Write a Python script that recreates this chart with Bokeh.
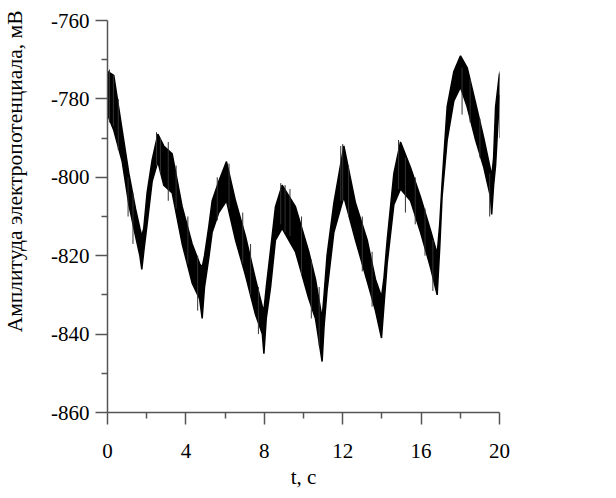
from bokeh.plotting import figure
from bokeh.models import Range1d, FixedTicker, ColumnDataSource, Title, CustomJSTickFormatter
from bokeh.embed import file_html
from bokeh.resources import INLINE

# Envelope of the noisy trace: time (s), upper and lower bound (mV)
t_env = [0.00, 0.32, 0.75, 1.09, 1.43, 1.65, 1.75, 1.85, 2.02, 2.28, 2.57, 2.87, 3.30,
         3.81, 4.32, 4.70, 4.83, 4.95, 5.17, 5.34, 5.68, 6.07, 6.53, 7.04, 7.55, 7.90,
         7.98, 8.10, 8.32, 8.57, 8.91, 9.59, 10.27, 10.61, 10.95, 11.05, 11.20, 11.55,
         12.06, 12.65, 13.25, 13.67, 13.98, 14.10, 14.27, 14.61, 14.95, 15.46, 15.97,
         16.48, 16.82, 16.95, 17.07, 17.33, 17.67, 18.01, 18.35, 18.78, 19.20, 19.54,
         19.60, 19.70, 19.80, 20.00]
y_upper = [-773, -774, -788, -799, -808, -813, -815, -813, -804, -795.5, -789, -792, -794,
           -807.5, -817, -822, -823, -820, -812.5, -806, -801, -796, -806, -815, -826, -833,
           -834, -828, -818.5, -807.5, -802, -807.5, -819, -826, -836, -830, -820, -806.5,
           -792, -806.5, -816, -826, -830.5, -826, -816, -799, -791, -797.5, -805,
           -813.5, -819.5, -812, -801.5, -782, -773, -769, -772, -781, -790, -798,
           -800, -795, -782, -773.5]
y_lower = [-784, -788, -796, -807, -815, -820, -823.5, -819, -812, -801, -796, -802, -804,
           -817, -827, -831, -836, -828, -820.5, -814, -809, -806, -816, -825, -835, -840,
           -845, -836, -828, -816, -813, -819, -831, -836, -847, -838, -829, -814,
           -805, -816, -826.5, -834, -841, -833, -822, -807, -803, -806, -814,
           -823, -830, -818, -805, -790.5, -780.5, -777, -782, -790.5, -797.5, -805,
           -809.5, -802, -797, -779]

# Individual noise spikes: time, top, bottom (mV)
spike_t = [0.10, 0.30, 0.55, 1.05, 1.30, 2.50, 2.70, 3.10, 3.50, 4.10, 4.60, 5.60, 6.20,
           6.90, 7.30, 7.70, 8.84, 9.06, 9.31, 9.90, 10.40, 10.80, 11.90, 12.00, 12.30,
           13.00, 13.50, 14.85, 15.20, 15.70, 16.20, 16.60, 18.09, 18.50, 19.00, 19.50,
           20.00]
spike_top = [-772.5, -774, -780, -800, -804, -788.5, -790, -791, -797, -810, -820, -800,
             -796.5, -809, -817, -828, -801.5, -802, -803, -810, -821, -828, -792, -791.5,
             -797, -810, -819, -790.5, -795, -800, -808, -816, -772, -775, -785, -799,
             -773]
spike_bottom = [-786, -787, -793, -810, -817, -797, -799, -806, -808, -822, -834, -811,
                -808, -822, -830, -840, -812, -814, -815, -825, -836, -843, -806, -806,
                -810, -824, -833, -803, -809, -812, -820, -829, -784, -786, -795, -810,
                -790]

x_ticks = [0, 4, 8, 12, 16, 20]
x_minor = [2, 6, 10, 14, 18]
y_ticks = [-860, -840, -820, -800, -780, -760]
y_minor = [-850, -830, -810, -790, -770]

font = "Liberation Serif"

p = figure(width=600, height=496, output_backend="svg", toolbar_location=None,
           x_range=Range1d(0, 20), y_range=Range1d(-860, -760),
           min_border_left=107, min_border_right=101, min_border_top=20, min_border_bottom=84)
p.background_fill_color = "white"
p.border_fill_color = "white"
p.outline_line_color = None
p.xgrid.visible = False
p.ygrid.visible = False

src = ColumnDataSource(dict(t=t_env, up=y_upper, lo=y_lower))
p.varea(x="t", y1="lo", y2="up", source=src, fill_color="black")
p.line(x="t", y="up", source=src, line_color="black", line_width=1.5)
p.line(x="t", y="lo", source=src, line_color="black", line_width=1.5)
p.segment(x0=spike_t, y0=spike_top, x1=spike_t, y1=spike_bottom, line_color="#333333", line_width=1)

axis_color = "#555555"
for ax in (p.xaxis[0], p.yaxis[0]):
    ax.axis_line_color = axis_color
    ax.axis_line_width = 1.5
    ax.major_tick_line_color = axis_color
    ax.minor_tick_line_color = axis_color
    ax.major_tick_line_width = 1.5
    ax.minor_tick_line_width = 1.5
    ax.major_tick_out = 12
    ax.major_tick_in = 0
    ax.minor_tick_out = 6
    ax.minor_tick_in = 0
    ax.major_label_text_font = font
    ax.major_label_text_font_size = "21px"
    ax.major_label_text_color = "black"
    ax.formatter = CustomJSTickFormatter(code="return String(tick);")
    ax.axis_label_text_font = font
    ax.axis_label_text_font_size = "21px"
    ax.axis_label_text_font_style = "normal"
    ax.axis_label_text_color = "black"

p.xaxis[0].ticker = FixedTicker(ticks=x_ticks, minor_ticks=x_minor)
p.yaxis[0].ticker = FixedTicker(ticks=y_ticks, minor_ticks=y_minor)
p.xaxis[0].major_label_standoff = 19
p.yaxis[0].major_label_standoff = 6
p.xaxis[0].axis_label = "t, с"
p.xaxis[0].axis_label_standoff = 4

# spacer between the y axis and its title
p.add_layout(Title(text=" ", text_font_size="1px", standoff=19), "left")
p.add_layout(Title(text="Амплитуда электропотенциала, мВ", align="right", offset=-10,
                   text_font=font, text_font_size="21.5px", text_font_style="normal",
                   text_color="black", standoff=0), "left")

open("out.html", "w").write(file_html(p, INLINE))
